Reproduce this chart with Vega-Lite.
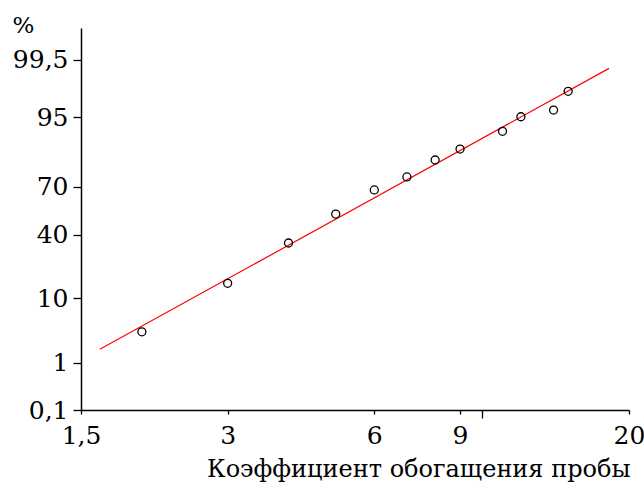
{
  "$schema": "https://vega.github.io/schema/vega-lite/v6.json",
  "autosize": "none",
  "width": 548,
  "height": 382,
  "padding": {"left": 81, "top": 28, "right": 15, "bottom": 73},
  "background": "white",
  "config": {
    "view": {"stroke": null},
    "font": "DejaVu Serif",
    "axis": {
      "grid": false,
      "domainColor": "black",
      "domainWidth": 1.5,
      "tickColor": "black",
      "tickWidth": 1.3,
      "labelColor": "black",
      "titleColor": "black",
      "labelFont": "DejaVu Serif",
      "titleFont": "DejaVu Serif",
      "titleFontWeight": "normal"
    }
  },
  "datasets": {
    "points": [
      {"k": 2, "p": 3.4},
      {"k": 3, "p": 14.9},
      {"k": 4, "p": 34.9},
      {"k": 5, "p": 53.2},
      {"k": 6, "p": 68.1},
      {"k": 7, "p": 75.2},
      {"k": 8, "p": 83.0},
      {"k": 9, "p": 87.1},
      {"k": 11, "p": 92.2},
      {"k": 12, "p": 95.1},
      {"k": 14, "p": 96.1},
      {"k": 15, "p": 98.06}
    ],
    "fit": [
      {"k": 1.64, "p": 1.75},
      {"k": 18.2, "p": 99.26}
    ]
  },
  "layer": [
    {
      "data": {"name": "fit"},
      "transform": [{"calculate": "quantileNormal(datum.p / 100)", "as": "z"}],
      "mark": {"type": "line", "color": "#ff0000", "strokeWidth": 1.2},
      "encoding": {
        "x": {"field": "k", "type": "quantitative"},
        "y": {"field": "z", "type": "quantitative"}
      }
    },
    {
      "data": {"name": "points"},
      "transform": [{"calculate": "quantileNormal(datum.p / 100)", "as": "z"}],
      "mark": {"type": "point", "shape": "circle", "filled": false, "color": "black", "strokeWidth": 1.3, "size": 64, "opacity": 1},
      "encoding": {
        "x": {
          "field": "k", "type": "quantitative",
          "scale": {"type": "log", "base": 2, "domain": [1.5, 20], "nice": false, "zero": false},
          "axis": {
            "values": [1.5, 3, 6, 9, 10, 20],
            "labelExpr": "datum.value == 10 ? '' : replace(format(datum.value, '~g'), '.', ',')",
            "tickSize": {"condition": {"test": "datum.value == 10", "value": 8}, "value": 4},
            "labelFontSize": 25,
            "labelPadding": 9,
            "labelFlush": false,
            "labelOverlap": false,
            "title": "Коэффициент обогащения пробы",
            "titleFontSize": 24,
            "titleAnchor": "end",
            "titleAlign": "right",
            "titleBaseline": "alphabetic",
            "titleX": 549,
            "titleY": 66
          }
        },
        "y": {
          "field": "z", "type": "quantitative",
          "scale": {"domain": [-3.0902, 3.0902], "nice": false, "zero": false},
          "axis": {
            "values": [-3.0902, -2.3263, -1.2816, -0.2533, 0.5244, 1.6449, 2.5758],
            "labelExpr": "replace(format(cumulativeNormal(datum.value) * 100, '.3~g'), '.', ',')",
            "tickSize": 8,
            "labelFontSize": 25,
            "labelPadding": 5,
            "labelBaseline": "middle",
            "labelOverlap": false,
            "labelFlush": false,
            "title": "%",
            "titleFontSize": 23,
            "titleAngle": 0,
            "titleAlign": "left",
            "titleBaseline": "alphabetic",
            "titleX": -69,
            "titleY": 4
          }
        }
      }
    }
  ]
}
